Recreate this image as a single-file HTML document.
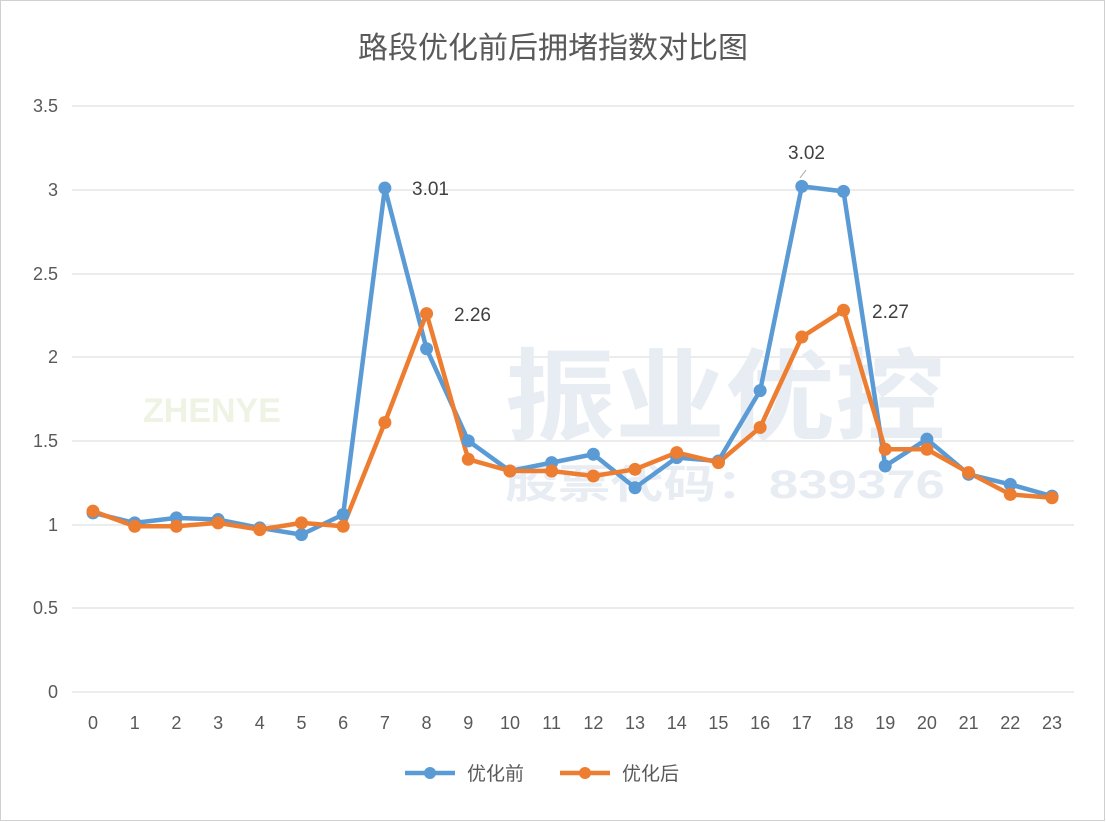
<!DOCTYPE html>
<html><head><meta charset="utf-8"><style>body{margin:0;background:#fff}svg{display:block}</style></head><body>
<svg width="1106" height="822" xmlns="http://www.w3.org/2000/svg" font-family="'Liberation Sans','Noto Sans CJK SC',sans-serif">
<rect x="0.5" y="0.5" width="1104" height="820" fill="#fff" stroke="#d0d0d0"/>
<text x="553" y="58" font-size="30" fill="#595959" text-anchor="middle">路段优化前后拥堵指数对比图</text>
<g stroke="#d9d9d9" stroke-width="1">
<line x1="72" x2="1074" y1="106" y2="106"/><line x1="72" x2="1074" y1="190" y2="190"/><line x1="72" x2="1074" y1="274" y2="274"/><line x1="72" x2="1074" y1="357" y2="357"/><line x1="72" x2="1074" y1="441" y2="441"/><line x1="72" x2="1074" y1="525" y2="525"/><line x1="72" x2="1074" y1="608" y2="608"/><line x1="72" x2="1074" y1="692" y2="692"/>
</g>
<g font-size="18" fill="#595959" text-anchor="end">
<text x="58" y="112">3.5</text><text x="58" y="196">3</text><text x="58" y="280">2.5</text><text x="58" y="363">2</text><text x="58" y="447">1.5</text><text x="58" y="531">1</text><text x="58" y="614">0.5</text><text x="58" y="698">0</text>
</g>
<g font-weight="bold" fill="#e8edf4">
<text x="505" y="432" font-size="100" textLength="440" lengthAdjust="spacingAndGlyphs">振业优控</text>
<text x="505" y="498" font-size="40" textLength="440" lengthAdjust="spacingAndGlyphs">股票代码：839376</text>
<text x="143" y="422" font-size="34" fill="#eef3e4">ZHENYE</text>
</g>
<g id="xl" font-size="18" fill="#595959" text-anchor="middle"></g>
<polyline id="pb" fill="none" stroke="#5b9bd5" stroke-width="4.5" stroke-linejoin="round"/>
<polyline id="po" fill="none" stroke="#ed7d31" stroke-width="4.5" stroke-linejoin="round"/>
<g id="mb" fill="#5b9bd5"></g><g id="mo" fill="#ed7d31"></g>
<g font-size="19" fill="#404040">
<text x="412" y="195">3.01</text><text x="454" y="321">2.26</text><text x="788" y="159">3.02</text><text x="872" y="318">2.27</text>
</g>
<line x1="800" y1="178" x2="806" y2="170" stroke="#a6a6a6"/>
<line x1="405" y1="773" x2="455" y2="773" stroke="#5b9bd5" stroke-width="4.5"/><circle cx="430" cy="773" r="6" fill="#5b9bd5"/>
<text x="467" y="780" font-size="19" fill="#595959">优化前</text>
<line x1="560" y1="773" x2="610" y2="773" stroke="#ed7d31" stroke-width="4.5"/><circle cx="585" cy="773" r="6" fill="#ed7d31"/>
<text x="622" y="780" font-size="19" fill="#595959">优化后</text>
<script>
var b=[1.07,1.01,1.04,1.03,0.98,0.94,1.06,3.01,2.05,1.50,1.32,1.37,1.42,1.22,1.40,1.38,1.80,3.02,2.99,1.35,1.51,1.30,1.24,1.17];
var o=[1.08,0.99,0.99,1.01,0.97,1.01,0.99,1.61,2.26,1.39,1.32,1.32,1.29,1.33,1.43,1.37,1.58,2.12,2.28,1.45,1.45,1.31,1.18,1.16];
var ns="http://www.w3.org/2000/svg";function X(i){return 93+i*959/23}function Y(v){return 692-v*167.43}
function draw(d,p,m){var pts=[];d.forEach(function(v,i){pts.push(X(i)+","+Y(v));var c=document.createElementNS(ns,"circle");c.setAttribute("cx",X(i));c.setAttribute("cy",Y(v));c.setAttribute("r",6.5);document.getElementById(m).appendChild(c)});document.getElementById(p).setAttribute("points",pts.join(" "))}
draw(b,"pb","mb");draw(o,"po","mo");
for(var i=0;i<24;i++){var t=document.createElementNS(ns,"text");t.setAttribute("x",X(i));t.setAttribute("y",729);t.textContent=i;document.getElementById("xl").appendChild(t)}
</script>
</svg>
</body></html>
